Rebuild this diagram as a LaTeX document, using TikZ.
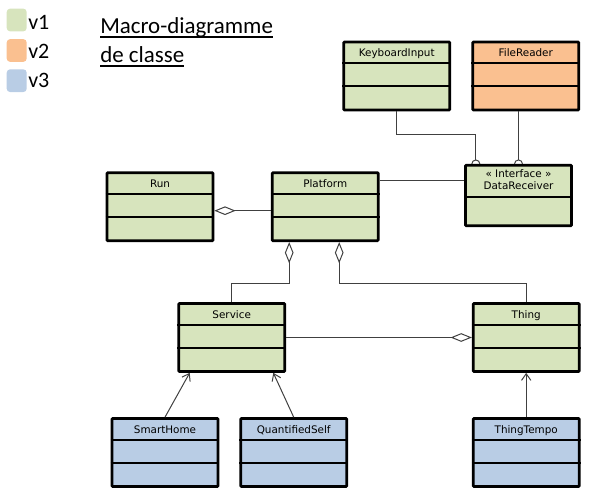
\documentclass[tikz,border=0pt]{standalone}
\usepackage{fontspec}
\setmainfont{DejaVu Sans}
\newfontfamily\calibri{Carlito}
\usetikzlibrary{arrows.meta}
\definecolor{vertv1}{RGB}{215,228,189}
\definecolor{orangev2}{RGB}{250,192,144}
\definecolor{bleuv3}{RGB}{185,205,229}
\begin{document}
\begin{tikzpicture}[x=0.75pt,y=-0.75pt,
		classe/.style={draw,line width=2pt,rounded corners=0.6pt,minimum width=79.5pt,minimum height=51pt,inner sep=0pt},
		titre/.style={anchor=base,inner sep=0pt,font=\fontsize{7.8}{9}\selectfont},
		nom/.style={label={[titre,yshift=-12pt]north:#1}},
		lien/.style={line width=0.75pt,black!75},
		agreg/.style={lien,{Diamond[open,length=16pt,width=6.5pt]}-},
		herit/.style={lien,-{Straight Barb[length=5pt,width=7pt]}},
		legende/.style={rounded corners=2.5pt,minimum width=15pt,minimum height=17pt,inner sep=0pt},
		grandtexte/.style={inner sep=0pt,anchor=base west,font=\calibri\fontsize{17.2}{20}\selectfont}]
		\useasboundingbox (0,0) rectangle (593,499);
		\foreach \v/\c/\y/\b in {1/vertv1/20/29.3,2/orangev2/50.5/58.3,3/bleuv3/80.7/87.3} {
			\node[legende,fill=\c] (leg\v) at (16.7,\y) {};
			\node[grandtexte,font=\calibri\fontsize{16.5}{18}\selectfont] (tleg\v) at (28,\b) {v\v};
		}
		\node[grandtexte] (titre1) at (100,33.3) {Macro-diagramme};
		\node[grandtexte] (titre2) at (100,62.7) {de classe};
		\foreach \t in {titre1,titre2}
			\draw[line width=1.2pt] ([yshift=-2.6pt]\t.base west) -- ([yshift=-2.6pt]\t.base east);
		\node[classe,fill=vertv1,nom=KeyboardInput] (keyboard) at (396.7,76) {};
		\node[classe,fill=orangev2,nom=FileReader] (filereader) at (525.8,76) {};
		\node[classe,fill=vertv1,minimum height=45.3pt,
			label={[titre,yshift=-10.3pt]north:« Interface »},
			label={[titre,yshift=-19.3pt]north:DataReceiver}] (receiver) at (518.5,195.5) {};
		\node[classe,fill=vertv1,nom=Run] (run) at (160,206.7) {};
		\node[classe,fill=vertv1,nom=Platform] (platform) at (325.2,206.7) {};
		\node[classe,fill=vertv1,nom=Service] (service) at (231.7,337.5) {};
		\node[classe,fill=vertv1,nom=Thing] (thing) at (526.2,337.5) {};
		\node[classe,fill=bleuv3,nom=SmartHome] (smarthome) at (165,452.5) {};
		\node[classe,fill=bleuv3,nom=QuantifiedSelf] (quantified) at (293.7,452.5) {};
		\node[classe,fill=bleuv3,nom=ThingTempo] (thingtempo) at (526.2,452.5) {};
		\foreach \n in {keyboard,filereader,run,platform,service,thing,smarthome,quantified,thingtempo}
			\foreach \d in {17pt,34.3pt}
				\draw[line width=1.6pt] ([yshift=-\d]\n.north west) -- ([yshift=-\d]\n.north east);
		\draw[line width=1.6pt] ([yshift=-24.7pt]receiver.north west) -- ([yshift=-24.7pt]receiver.north east);
		\coordinate (kbin) at ([xshift=-32pt]receiver.north);
		\coordinate (frin) at (receiver.north);
		\draw[lien] (keyboard.south) -- ++(0,23) -| ([yshift=3pt]kbin);
		\draw[lien] (frin |- filereader.south) -- ([yshift=3pt]frin);
		\foreach \c in {kbin,frin}
			\draw[lien] ([xshift=-3pt]\c) arc[start angle=180,end angle=0,radius=3pt];
		\coordinate (pfr) at ([yshift=20pt]platform.east);
		\draw[lien] (pfr) -- (pfr -| receiver.west);
		\draw[agreg] ([yshift=-3pt]run.east) -- ([yshift=-3pt]platform.west);
		\draw[agreg] ([xshift=-27pt]platform.south) -- ++(0,41.6) -| (service.north);
		\draw[agreg] ([xshift=10.5pt]platform.south) -- ++(0,41.6) -| (thing.north);
		\draw[agreg] (thing.west) -- (service.east);
		\draw[herit] (smarthome.north) -- ([xshift=-31.5pt]service.south);
		\draw[herit] (quantified.north) -- ([xshift=31.2pt]service.south);
		\draw[herit] (thingtempo.north) -- (thing.south);
	\end{tikzpicture}
\end{document}
